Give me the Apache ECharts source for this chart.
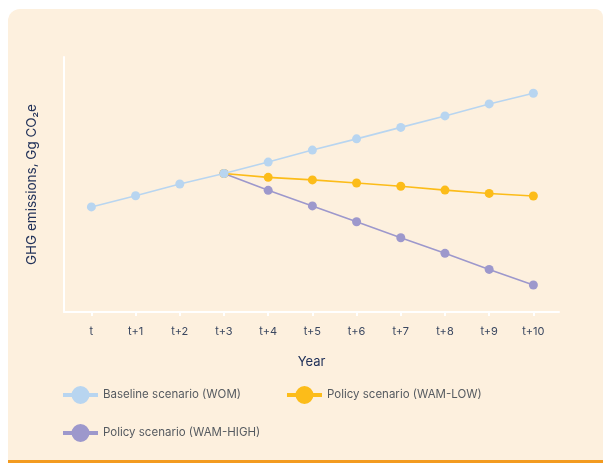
<!DOCTYPE html>
<html>
<head>
<meta charset="utf-8">
<script src="https://cdn.jsdelivr.net/npm/echarts@6/dist/echarts.min.js"></script>
<style>
  html, body { margin: 0; padding: 0; background: #ffffff; }
  #chart { width: 603px; height: 463px; }
</style>
</head>
<body>
<div id="chart"></div>
<script>
// Year steps along the horizontal axis
const yearLabels = ['t', 't+1', 't+2', 't+3', 't+4', 't+5', 't+6', 't+7', 't+8', 't+9', 't+10'];
const yearIndex = [0, 1, 2, 3, 4, 5, 6, 7, 8, 9, 10];

// Emission paths (relative units, no scale shown on the axis)
const baselineWOM = [41.2, 45.6, 50.2, 54.3, 58.8, 63.5, 67.9, 72.4, 76.9, 81.6, 85.8];
const policyWamLow = [null, null, null, 54.3, 52.8, 51.8, 50.6, 49.3, 47.8, 46.5, 45.5];
const policyWamHigh = [null, null, null, 54.3, 47.7, 41.6, 35.4, 29.1, 23.0, 16.7, 10.6];

const seriesNames = ['Baseline scenario (WOM)', 'Policy scenario (WAM-LOW)', 'Policy scenario (WAM-HIGH)'];
const seriesColors = ['#b8d5f0', '#fcbc19', '#9d98cc'];

const pairs = (vals) => vals.map((v, i) => [yearIndex[i], v]).filter(p => p[1] !== null);

// legend glyph: thick bar with a disc in the middle
const legendIcon = 'path://M0,7H35V11H0Z M26.5,9A9,9,0,1,1,8.5,9A9,9,0,1,1,26.5,9Z';

const textFont = 'Inter';
const navy = '#22325a';

const chart = echarts.init(document.getElementById('chart'), null, { renderer: 'canvas' });

const makeSeries = (idx, vals) => ({
  name: seriesNames[idx],
  type: 'line',
  data: pairs(vals),
  symbol: 'circle',
  symbolSize: 9,
  showSymbol: true,
  lineStyle: { color: seriesColors[idx], width: 1.6 },
  itemStyle: { color: seriesColors[idx] },
  emphasis: { disabled: true },
  z: 3 + (2 - idx)
});

const legendBase = {
  icon: legendIcon,
  itemWidth: 35,
  itemHeight: 18,
  itemGap: 46,
  padding: 0,
  orient: 'horizontal',
  selectedMode: false,
  textStyle: { fontFamily: textFont, fontSize: 11.5, color: '#555a60' }
};

chart.setOption({
  animation: false,
  backgroundColor: 'transparent',
  graphic: [
    {
      type: 'rect',
      z: -10,
      shape: { x: 8, y: 9, width: 595, height: 454, r: [12, 8, 0, 0] },
      style: { fill: '#fdf0de' }
    },
    {
      type: 'rect',
      z: -9,
      shape: { x: 8, y: 460, width: 595, height: 3 },
      style: { fill: '#f39b20' }
    }
  ],
  legend: [
    Object.assign({}, legendBase, { left: 63, top: 386, data: [seriesNames[0], seriesNames[1]] }),
    Object.assign({}, legendBase, { left: 63, top: 424, data: [seriesNames[2]] })
  ],
  grid: { left: 64, right: 44, top: 57, bottom: 151, containLabel: false },
  xAxis: {
    type: 'value',
    min: -0.62,
    max: 10.58,
    name: 'Year',
    nameLocation: 'middle',
    nameGap: 44,
    nameTextStyle: { fontFamily: textFont, fontSize: 13, color: navy },
    axisLine: { show: true, onZero: false, lineStyle: { color: '#ffffff', width: 2 } },
    axisTick: { show: true, customValues: yearIndex, length: 4, lineStyle: { color: '#ffffff', width: 2 } },
    axisLabel: {
      customValues: yearIndex,
      margin: 14,
      fontFamily: textFont,
      fontSize: 11,
      color: '#3a4760',
      formatter: (v) => yearLabels[Math.round(v)]
    },
    splitLine: { show: false }
  },
  yAxis: {
    type: 'value',
    min: 0,
    max: 100,
    name: 'GHG emissions, Gg CO\u2082e',
    nameLocation: 'middle',
    nameGap: 25,
    nameRotate: 90,
    nameTextStyle: { fontFamily: textFont, fontSize: 13.5, color: navy },
    axisLine: { show: true, onZero: false, lineStyle: { color: '#ffffff', width: 2 } },
    axisTick: { show: false },
    axisLabel: { show: false },
    splitLine: { show: false }
  },
  series: [
    makeSeries(0, baselineWOM),
    makeSeries(1, policyWamLow),
    makeSeries(2, policyWamHigh)
  ]
});
</script>
</body>
</html>
